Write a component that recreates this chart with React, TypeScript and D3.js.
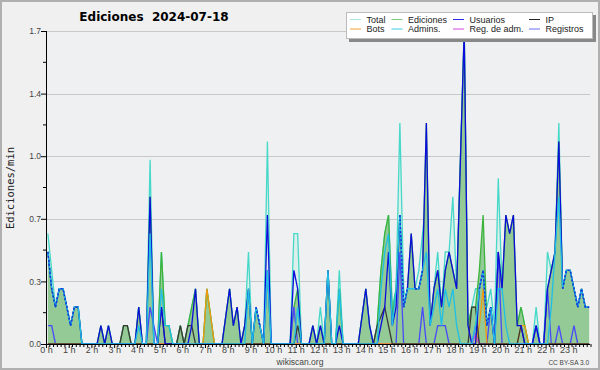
import { useEffect, useRef } from 'react';
import * as d3 from 'd3';

// ediciones por minuto, un valor por tramo de 10 minutos (144 por serie)
const total = [
  0.6, 0.4, 0.2, 0.3, 0.3, 0.2, 0.1, 0.2, 0.2, 0, 0, 0,
  0, 0, 0.1, 0, 0.1, 0, 0, 0, 0.1, 0.1, 0, 0,
  0.2, 0, 0, 1.0, 0, 0, 0.5, 0.1, 0.1, 0, 0, 0.1,
  0, 0.1, 0.2, 0.3, 0, 0, 0.3, 0.15, 0, 0, 0, 0.15,
  0.3, 0.1, 0.2, 0, 0.1, 0.5, 0, 0.2, 0.1, 0, 1.1, 0,
  0, 0, 0, 0, 0, 0.6, 0.6, 0, 0, 0, 0.1, 0,
  0.2, 0, 0.4, 0, 0, 0.4, 0, 0, 0, 0, 0, 0.15,
  0.3, 0.1, 0, 0.1, 0.4, 0.6, 0.7, 0.2, 0.3, 1.2, 0.3, 0.2,
  0.1, 0.3, 0.4, 0.6, 0.8, 0.1, 0.3, 0.5, 0.2, 0.5, 0.5, 0.8,
  0.3, 1.0, 1.7, 0.1, 0.2, 0.3, 0.3, 0.3, 0.2, 0.3, 0.1, 0.9,
  0.3, 0.2, 0, 0.1, 0.1, 0.2, 0.1, 0, 0, 0.2, 0, 0,
  0.5, 0.4, 0.5, 1.2, 0.3, 0.4, 0.4, 0.3, 0.2, 0.3, 0.2, 0.2,
];

const ediciones = [
  0.5, 0.3, 0.2, 0.3, 0.3, 0.2, 0.1, 0.2, 0.2, 0, 0, 0,
  0, 0, 0.1, 0, 0.1, 0, 0, 0, 0.1, 0.1, 0, 0,
  0.2, 0, 0, 0.8, 0, 0, 0.5, 0.1, 0.1, 0, 0, 0.1,
  0, 0.1, 0.2, 0.3, 0, 0, 0.3, 0.15, 0, 0, 0, 0.15,
  0.3, 0.1, 0.2, 0, 0.1, 0.3, 0, 0.2, 0.1, 0, 0.4, 0,
  0, 0, 0, 0, 0, 0.2, 0.3, 0, 0, 0, 0.1, 0,
  0.1, 0, 0.4, 0, 0, 0.3, 0, 0, 0, 0, 0, 0.15,
  0.3, 0.1, 0, 0.1, 0.4, 0.6, 0.7, 0.15, 0.3, 0.7, 0.2, 0.3,
  0.6, 0.3, 0.3, 0.4, 1.2, 0.1, 0.3, 0.4, 0.2, 0.4, 0.5, 0.4,
  0.3, 1.0, 1.7, 0.1, 0.2, 0.2, 0.4, 0.7, 0.1, 0.2, 0, 0.5,
  0.3, 0.7, 0.6, 0.7, 0.1, 0.2, 0.1, 0, 0, 0.1, 0, 0,
  0.3, 0.4, 0.5, 1.1, 0.3, 0.4, 0.4, 0.3, 0.2, 0.3, 0.2, 0.2,
];

const usuarios = [
  0.5, 0.3, 0.2, 0.3, 0.3, 0.2, 0.1, 0.2, 0.2, 0, 0, 0,
  0, 0, 0.1, 0, 0.1, 0, 0, 0, 0, 0, 0, 0,
  0.2, 0, 0, 0.8, 0, 0, 0.2, 0, 0, 0, 0, 0,
  0, 0, 0.1, 0.3, 0, 0, 0, 0, 0, 0, 0, 0.15,
  0.3, 0.1, 0.2, 0, 0.1, 0.3, 0, 0.2, 0.1, 0, 0.7, 0,
  0, 0, 0, 0, 0, 0.4, 0.3, 0, 0, 0, 0.1, 0,
  0.1, 0, 0.4, 0, 0, 0.1, 0, 0, 0, 0, 0, 0.15,
  0.3, 0.1, 0, 0, 0.1, 0.2, 0.5, 0.1, 0.2, 0.7, 0.2, 0.3,
  0.6, 0.3, 0.3, 0.4, 1.2, 0.1, 0.3, 0.4, 0.2, 0.4, 0.5, 0.4,
  0.3, 1.0, 1.7, 0.1, 0, 0, 0.3, 0.4, 0.1, 0.2, 0, 0.5,
  0.3, 0.7, 0.6, 0.7, 0.1, 0.1, 0, 0, 0, 0.1, 0, 0,
  0.3, 0.4, 0.5, 1.1, 0.3, 0.4, 0.4, 0.3, 0.2, 0.3, 0.2, 0.2,
];

const ip = [
  0, 0, 0, 0, 0, 0, 0, 0, 0, 0, 0, 0,
  0, 0, 0, 0, 0, 0, 0, 0, 0.1, 0.1, 0, 0,
  0, 0, 0, 0, 0, 0, 0.2, 0, 0, 0, 0, 0.1,
  0, 0.1, 0.1, 0, 0, 0, 0, 0, 0, 0, 0, 0,
  0, 0, 0, 0, 0, 0, 0, 0, 0, 0, 0, 0,
  0, 0, 0, 0, 0, 0, 0.1, 0, 0, 0, 0, 0,
  0, 0, 0, 0, 0, 0, 0, 0, 0, 0, 0, 0,
  0, 0, 0, 0.1, 0.15, 0.2, 0.1, 0, 0, 0, 0, 0,
  0, 0, 0, 0, 0, 0, 0, 0, 0, 0, 0, 0,
  0, 0, 0, 0, 0.2, 0.2, 0, 0, 0, 0, 0, 0,
  0, 0, 0, 0, 0, 0.1, 0, 0, 0, 0, 0, 0,
  0, 0, 0, 0, 0, 0, 0, 0, 0, 0, 0, 0,
];

const bots = [
  0, 0, 0, 0, 0, 0, 0, 0, 0, 0, 0, 0,
  0, 0, 0, 0, 0, 0, 0, 0, 0, 0, 0, 0,
  0, 0, 0, 0, 0, 0, 0, 0, 0, 0, 0, 0,
  0, 0, 0, 0, 0, 0, 0.3, 0.15, 0, 0, 0, 0,
  0, 0, 0, 0, 0, 0, 0, 0, 0, 0, 0, 0,
  0, 0, 0, 0, 0, 0, 0, 0, 0, 0, 0, 0,
  0, 0, 0, 0, 0, 0, 0, 0, 0, 0, 0, 0,
  0, 0, 0, 0, 0, 0, 0, 0, 0, 0, 0, 0,
  0, 0, 0, 0, 0, 0, 0, 0, 0, 0, 0, 0,
  0, 0, 0, 0, 0, 0, 0.1, 0.3, 0, 0, 0, 0,
  0, 0, 0, 0, 0, 0.1, 0.1, 0, 0, 0, 0, 0,
  0, 0, 0, 0, 0, 0, 0, 0, 0, 0, 0, 0,
];

const admins = [
  0.5, 0.3, 0.2, 0.3, 0.3, 0.2, 0.1, 0.2, 0.2, 0, 0, 0,
  0, 0, 0, 0, 0, 0, 0, 0, 0, 0, 0, 0,
  0.1, 0, 0, 0.6, 0, 0, 0.3, 0.1, 0.1, 0, 0, 0,
  0, 0, 0, 0, 0, 0, 0, 0, 0, 0, 0, 0,
  0, 0, 0, 0, 0, 0.3, 0, 0.2, 0.1, 0, 0.4, 0,
  0, 0, 0, 0, 0, 0, 0.2, 0, 0, 0, 0, 0,
  0, 0, 0.4, 0, 0, 0.3, 0, 0, 0, 0, 0, 0,
  0, 0, 0, 0, 0.3, 0.5, 0.6, 0.1, 0.3, 0.7, 0.2, 0.3,
  0.3, 0.3, 0.3, 0.4, 0.5, 0.1, 0.2, 0.3, 0.1, 0.3, 0.2, 0.3,
  0.1, 0, 0, 0, 0, 0.1, 0.3, 0.4, 0.1, 0.2, 0, 0.3,
  0.3, 0.1, 0, 0, 0, 0, 0, 0, 0, 0, 0, 0,
  0, 0.2, 0.5, 0.8, 0.3, 0.4, 0.4, 0.3, 0.2, 0.3, 0.2, 0.2,
];

const regAdm = [
  0, 0, 0, 0, 0, 0, 0, 0, 0, 0, 0, 0,
  0, 0, 0, 0, 0, 0, 0, 0, 0, 0, 0, 0,
  0, 0, 0, 0, 0, 0, 0, 0, 0, 0, 0, 0,
  0, 0, 0, 0, 0, 0, 0, 0, 0, 0, 0, 0,
  0, 0, 0, 0, 0, 0, 0, 0, 0, 0, 0, 0,
  0, 0, 0, 0, 0, 0, 0, 0, 0, 0, 0, 0,
  0, 0, 0, 0, 0, 0, 0, 0, 0, 0, 0, 0,
  0, 0, 0, 0, 0, 0, 0, 0, 0, 0, 0, 0,
  0, 0, 0, 0, 0, 0, 0, 0, 0, 0, 0, 0,
  0, 0, 0, 0, 0, 0.05, 0, 0, 0, 0, 0, 0,
  0, 0, 0, 0, 0, 0, 0, 0, 0, 0, 0, 0,
  0, 0, 0, 0, 0, 0, 0, 0, 0, 0, 0, 0,
];

const registros = [
  0.1, 0.1, 0, 0, 0, 0, 0, 0, 0, 0, 0, 0,
  0, 0, 0, 0, 0, 0, 0, 0, 0, 0, 0, 0,
  0, 0, 0, 0.2, 0.1, 0, 0, 0, 0, 0, 0, 0,
  0, 0, 0, 0, 0, 0, 0, 0, 0, 0, 0, 0,
  0, 0, 0, 0, 0, 0, 0, 0, 0, 0, 0.4, 0,
  0, 0, 0, 0, 0, 0.2, 0, 0, 0, 0, 0, 0,
  0, 0, 0, 0, 0, 0, 0, 0, 0, 0, 0, 0,
  0, 0, 0, 0, 0, 0, 0, 0, 0, 0.5, 0, 0,
  0, 0, 0, 0.2, 0, 0, 0, 0.1, 0.1, 0.1, 0, 0,
  0, 0, 0, 0, 0, 0.1, 0, 0, 0, 0.2, 0, 0.5,
  0, 0, 0, 0, 0, 0, 0, 0, 0, 0.1, 0, 0,
  0.3, 0, 0, 0.1, 0, 0, 0, 0.1, 0, 0, 0, 0,
];

const hours = d3.range(24);
const yTicks = [0, 0.34, 0.68, 1.02, 1.36, 1.7];

const legendNames = ['Total', 'Ediciones', 'Usuarios', 'IP', 'Bots', 'Admins.', 'Reg. de adm.', 'Registros'];
const legendColors = ['#a6e6e2', '#7ccc7c', '#2a2ae6', '#222222', '#f0a030', '#3ccbe4', '#d548e4', '#6a6af2'];

const App = () => {
  const svgRef = useRef<SVGSVGElement>(null);

  useEffect(() => {
    if (!svgRef.current) return;
    const width = 600;
    const height = 370;
    const svg = d3.select(svgRef.current);
    svg.selectAll('*').remove();

    svg.append('rect')
      .attr('x', 1).attr('y', 1)
      .attr('width', width - 2).attr('height', height - 2)
      .attr('fill', '#f0f0f0')
      .attr('stroke', '#b0b0b0')
      .attr('stroke-width', 2);

    const x = d3.scaleLinear().domain([0, 1440]).range([46, 591]);
    const y = d3.scaleLinear().domain([0, 1.7]).range([344, 31]);
    const xAt = (i: number) => x(i * 10 + 5);

    svg.append('rect')
      .attr('x', 46).attr('y', 31)
      .attr('width', 544).attr('height', 313)
      .attr('fill', '#eef0f2');

    // rejilla
    svg.append('g')
      .selectAll('line')
      .data(yTicks.slice(1))
      .enter()
      .append('line')
      .attr('x1', 46).attr('x2', 590)
      .attr('y1', d => Math.round(y(d)) + 0.5)
      .attr('y2', d => Math.round(y(d)) + 0.5)
      .attr('stroke', '#c8c8c8');

    const area = d3.area<number>().x((_, i) => xAt(i)).y0(y(0)).y1(d => y(d));
    const line = d3.line<number>().x((_, i) => xAt(i)).y(d => y(d));

    const plot = svg.append('g');

    plot.append('path').attr('d', area(total)).attr('fill', '#dcefeb');
    plot.append('path').attr('d', line(total))
      .attr('fill', 'none').attr('stroke', '#46d8c8').attr('stroke-width', 1.3);

    plot.append('path').attr('d', area(ediciones)).attr('fill', '#93ca95');
    plot.append('path').attr('d', line(ediciones))
      .attr('fill', 'none').attr('stroke', '#3cb43c').attr('stroke-width', 1.3);

    const lines: [number[], string][] = [
      [registros, '#4a4af8'],
      [regAdm, '#d040e0'],
      [bots, '#f09a10'],
      [ip, '#3a3a3a'],
      [usuarios, '#0c0cdc'],
      [admins, '#20bfe6'],
    ];
    lines.forEach(([vals, color]) => {
      plot.append('path').attr('d', line(vals))
        .attr('fill', 'none').attr('stroke', color).attr('stroke-width', 1.3);
    });

    // donde Usuarios y Admins. coinciden, las dos líneas se alternan
    const same = d3.line<number>()
      .defined((d, i) => d > 0 && admins[i] === d)
      .x((_, i) => xAt(i)).y(d => y(d));
    plot.append('path').attr('d', same(usuarios))
      .attr('fill', 'none').attr('stroke', '#1530d8').attr('stroke-width', 1.4)
      .attr('stroke-dasharray', '2,2');

    // eje Y
    const yAxis = svg.append('g').attr('transform', 'translate(46,0)');
    yAxis.call(d3.axisLeft(y).tickValues(yTicks).tickSize(5).tickFormat(d3.format('.1f')));
    yAxis.append('g').selectAll('line')
      .data(yTicks.slice(0, -1).map(d => d + 0.17))
      .enter().append('line')
      .attr('x1', -3).attr('x2', 0)
      .attr('y1', d => y(d)).attr('y2', d => y(d))
      .attr('stroke', '#000');
    yAxis.select('.domain').attr('d', `M0.5,${y(1.7)}V${y(0)}`);
    yAxis.selectAll('text')
      .attr('font-family', 'Liberation Sans').attr('font-size', 8.5)
      .attr('fill', '#444').attr('x', -5);

    // eje X
    const xAxis = svg.append('g').attr('transform', `translate(0,${y(0)})`);
    xAxis.call(d3.axisBottom(x)
      .tickValues(hours.map(h => h * 60))
      .tickSize(4)
      .tickFormat(d => `${+d / 60} h`));
    xAxis.append('g').selectAll('line')
      .data(d3.range(0, 1441, 10).filter(m => m % 60 !== 0 || m === 1440))
      .enter().append('line')
      .attr('x1', d => x(d)).attr('x2', d => x(d))
      .attr('y1', 0).attr('y2', 3)
      .attr('stroke', '#000');
    xAxis.select('.domain').attr('d', `M46,0.5H590`);
    xAxis.selectAll('text')
      .attr('font-family', 'Liberation Sans').attr('font-size', 9)
      .attr('fill', '#444').attr('y', 2.5);

    // textos
    svg.append('text')
      .attr('x', 154).attr('y', 21)
      .attr('text-anchor', 'middle')
      .attr('font-family', 'DejaVu Sans').attr('font-weight', 'bold').attr('font-size', 12)
      .style('white-space', 'pre')
      .text('Ediciones  2024-07-18');

    svg.append('text')
      .attr('transform', 'translate(14,188) rotate(-90)')
      .attr('text-anchor', 'middle')
      .attr('font-family', 'DejaVu Sans Mono').attr('font-size', 10.5)
      .attr('fill', '#222')
      .text('Ediciones/min');

    svg.append('text')
      .attr('x', 300).attr('y', 365)
      .attr('text-anchor', 'middle')
      .attr('font-family', 'Liberation Sans').attr('font-size', 8.5)
      .attr('fill', '#444')
      .text('wikiscan.org');

    svg.append('text')
      .attr('x', 589).attr('y', 365)
      .attr('text-anchor', 'end')
      .attr('font-family', 'Liberation Sans').attr('font-size', 6.5)
      .attr('fill', '#444')
      .text('CC BY-SA 3.0');

    // leyenda
    const legend = svg.append('g');
    legend.append('rect')
      .attr('x', 349).attr('y', 15).attr('width', 247).attr('height', 27)
      .attr('fill', '#888');
    legend.append('rect')
      .attr('x', 346.5).attr('y', 12.5).attr('width', 246).attr('height', 26)
      .attr('fill', '#fff').attr('stroke', '#bbb');
    const colX = [350, 391.5, 453, 529];
    legendNames.forEach((name, k) => {
      const cx = colX[k % 4];
      const cy = k < 4 ? 19.5 : 29;
      legend.append('line')
        .attr('x1', cx).attr('x2', cx + 11)
        .attr('y1', cy).attr('y2', cy)
        .attr('stroke', legendColors[k]).attr('stroke-width', 1);
      legend.append('text')
        .attr('x', cx + 16.5).attr('y', cy + 3)
        .attr('font-family', 'Liberation Sans').attr('font-size', 9)
        .attr('fill', '#222')
        .text(name);
    });
  }, []);

  return (
    <svg
      ref={svgRef}
      width={600}
      height={370}
      style={{ position: 'absolute', left: 0, top: 0 }}
    />
  );
};

export default App;
